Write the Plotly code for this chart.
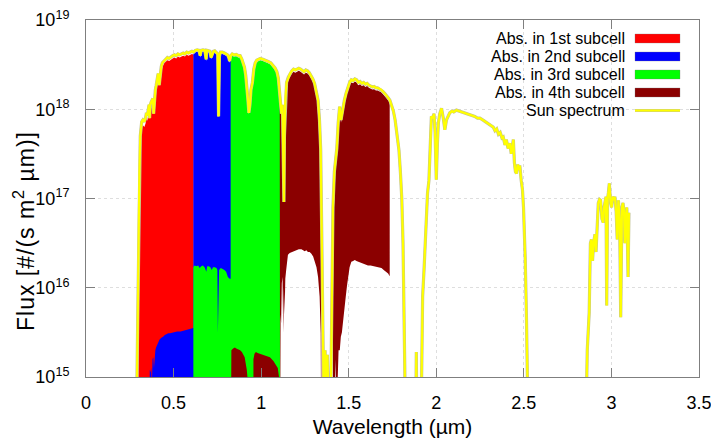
import plotly.graph_objects as go

# ---------------- data (wavelength in um, flux as log10 of #/(s m^2 um)) ----------------
SUN_WL = [0.280, 0.290, 0.295, 0.300, 0.305, 0.310, 0.318, 0.325, 0.333, 0.340, 0.345, 0.350,
          0.355, 0.360, 0.363, 0.366, 0.372, 0.378, 0.382, 0.386, 0.390, 0.396, 0.400, 0.406,
          0.412, 0.418, 0.422, 0.430, 0.436, 0.440, 0.448, 0.456, 0.465, 0.475, 0.485, 0.495,
          0.505, 0.515, 0.525, 0.535, 0.545, 0.555, 0.565, 0.575, 0.585, 0.595, 0.605, 0.615,
          0.625, 0.635, 0.645, 0.652, 0.658, 0.668, 0.678, 0.686, 0.690, 0.700, 0.708, 0.714,
          0.720, 0.728, 0.735, 0.745, 0.752, 0.757, 0.762, 0.768, 0.778, 0.790, 0.800, 0.808,
          0.815, 0.820, 0.826, 0.835, 0.845, 0.858, 0.870, 0.880, 0.890, 0.898, 0.905, 0.912,
          0.918, 0.924, 0.930, 0.936, 0.942, 0.950, 0.958, 0.966, 0.975, 0.985, 0.995, 1.010,
          1.025, 1.040, 1.055, 1.070, 1.080, 1.090, 1.098, 1.104, 1.110, 1.116, 1.122, 1.127,
          1.130, 1.133, 1.138, 1.145, 1.155, 1.165, 1.175, 1.185, 1.195, 1.205, 1.215, 1.225,
          1.235, 1.245, 1.255, 1.265, 1.275, 1.285, 1.295, 1.305, 1.315, 1.325, 1.333, 1.340,
          1.346, 1.350, 1.353, 1.362, 1.365, 1.368, 1.375, 1.378, 1.381, 1.395, 1.400, 1.405,
          1.410, 1.418, 1.425, 1.432, 1.440, 1.448, 1.456, 1.465, 1.475, 1.485, 1.495, 1.505,
          1.515, 1.525, 1.535, 1.545, 1.555, 1.565, 1.575, 1.585, 1.595, 1.605, 1.615, 1.625,
          1.635, 1.645, 1.655, 1.665, 1.675, 1.685, 1.695, 1.705, 1.715, 1.725, 1.735, 1.745,
          1.755, 1.765, 1.773, 1.780, 1.787, 1.795, 1.803, 1.810, 1.815, 1.822, 1.828, 1.880,
          1.886, 1.890, 1.910, 1.916, 1.922, 1.930, 1.937, 1.944, 1.950, 1.958, 1.965, 1.972,
          1.980, 1.987, 1.993, 2.000, 2.006, 2.012, 2.020, 2.030, 2.040, 2.049, 2.058, 2.068,
          2.077, 2.090, 2.100, 2.115, 2.130, 2.145, 2.160, 2.173, 2.190, 2.205, 2.220, 2.235,
          2.249, 2.265, 2.280, 2.295, 2.310, 2.325, 2.335, 2.345, 2.355, 2.365, 2.375, 2.382,
          2.392, 2.400, 2.410, 2.420, 2.428, 2.435, 2.440, 2.446, 2.452, 2.458, 2.465, 2.472,
          2.477, 2.485, 2.492, 2.498, 2.503, 2.508, 2.515, 2.522, 2.528, 2.850, 2.862, 2.873,
          2.880, 2.886, 2.892, 2.898, 2.906, 2.912, 2.918, 2.925, 2.932, 2.938, 2.946, 2.953,
          2.958, 2.964, 2.969, 2.973, 2.978, 2.983, 2.988, 2.995, 3.001, 3.008, 3.015, 3.020,
          3.027, 3.033, 3.040, 3.047, 3.053, 3.060, 3.066, 3.072, 3.077, 3.083, 3.088, 3.095,
          3.100]
SUN_LOG10 = [14.0, 14.8, 15.6, 16.6, 17.3, 17.7, 17.86, 17.88, 17.86, 17.9, 17.96, 17.93,
             17.99, 18.05, 17.9, 18.04, 18.08, 18.1, 18.12, 17.95, 18.12, 18.22, 18.26, 18.36,
             18.4, 18.27, 18.35, 18.48, 18.52, 18.53, 18.55, 18.57, 18.58, 18.57, 18.59, 18.6,
             18.61, 18.6, 18.62, 18.61, 18.62, 18.63, 18.62, 18.64, 18.63, 18.645, 18.65, 18.64,
             18.66, 18.665, 18.66, 18.6, 18.66, 18.665, 18.66, 18.56, 18.66, 18.655, 18.65, 18.58,
             18.62, 18.65, 18.655, 18.64, 18.62, 17.92, 18.6, 18.64, 18.64, 18.63, 18.62, 18.61,
             18.58, 18.54, 18.6, 18.62, 18.61, 18.615, 18.6, 18.6, 18.56, 18.5, 18.47, 18.38,
             18.27, 18.12, 17.96, 18.05, 18.22, 18.3, 18.45, 18.52, 18.55, 18.56, 18.57, 18.56,
             18.55, 18.535, 18.52, 18.49, 18.46, 18.42, 18.35, 18.22, 18.08, 17.95, 18.05, 17.6,
             16.96, 17.7, 18.1, 18.3, 18.36, 18.4, 18.43, 18.45, 18.44, 18.45, 18.46, 18.45,
             18.43, 18.42, 18.44, 18.43, 18.41, 18.38, 18.34, 18.29, 18.2, 18.1, 17.88, 17.55,
             16.6, 15.4, 14.0, 14.0, 15.3, 14.0, 14.0, 15.25, 14.0, 14.0, 15.2, 16.3,
             16.9, 17.3, 17.45, 17.56, 17.85, 18.03, 17.88, 18.0, 18.1, 18.18, 18.25, 18.3,
             18.33, 18.32, 18.34, 18.33, 18.3, 18.31, 18.29, 18.3, 18.28, 18.29, 18.27, 18.26,
             18.25, 18.255, 18.24, 18.24, 18.23, 18.22, 18.2, 18.18, 18.16, 18.13, 18.1, 18.04,
             17.98, 17.88, 17.77, 17.65, 17.54, 17.3, 17.0, 16.5, 16.1, 15.4, 14.0, 14.0,
             15.28, 14.0, 14.0, 15.4, 15.9, 16.2, 16.5, 16.8, 17.06, 17.2, 17.5, 17.92,
             17.9, 17.95, 17.75, 17.21, 17.6, 17.85, 17.95, 18.01, 17.9, 17.77, 17.88, 17.93,
             17.96, 17.98, 17.97, 17.99, 17.98, 17.97, 17.96, 17.955, 17.94, 17.93, 17.92, 17.9,
             17.9, 17.88, 17.86, 17.84, 17.82, 17.8, 17.76, 17.78, 17.72, 17.74, 17.68, 17.69,
             17.6, 17.66, 17.56, 17.62, 17.5, 17.58, 17.66, 17.4, 17.3, 17.28, 17.38, 17.32,
             17.37, 17.2, 17.1, 16.9, 16.62, 16.31, 15.65, 14.9, 14.0, 14.0, 15.3, 15.72,
             16.5, 16.54, 16.3, 16.5, 16.6, 16.4, 16.7, 16.95, 16.99, 16.98, 16.77, 16.73,
             16.9, 16.98, 17.02, 15.8, 16.99, 17.07, 17.17, 16.96, 16.9, 17.02, 16.98, 17.02,
             16.85, 16.54, 16.98, 16.75, 15.67, 16.9, 16.95, 16.85, 16.5, 16.8, 16.9, 16.12,
             16.84]

# 1st subcell
SUB1_WL = [0.297, 0.300, 0.305, 0.310, 0.318, 0.325, 0.333, 0.340, 0.345, 0.350, 0.355, 0.360,
           0.366, 0.372, 0.378, 0.382, 0.390, 0.396, 0.400, 0.406, 0.412, 0.422, 0.430, 0.436,
           0.440, 0.448, 0.456, 0.465, 0.475, 0.485, 0.495, 0.505, 0.515, 0.525, 0.535, 0.545,
           0.555, 0.565, 0.575, 0.585, 0.595, 0.605, 0.615]
SUB1_LOG10 = [15.9, 16.5, 17.2, 17.62, 17.8, 17.82, 17.8, 17.84, 17.9, 17.87, 17.93, 17.99,
              17.98, 18.02, 18.04, 18.06, 18.06, 18.16, 18.2, 18.3, 18.34, 18.3, 18.43, 18.48,
              18.49, 18.52, 18.54, 18.55, 18.54, 18.56, 18.57, 18.58, 18.57, 18.59, 18.58, 18.59,
              18.6, 18.59, 18.61, 18.6, 18.615, 18.62, 18.61]

# 2nd subcell (weak tail below 0.613 um, then strong band)
SUB2_WL = [0.362, 0.364, 0.366, 0.368, 0.372, 0.376, 0.380, 0.384, 0.388, 0.392, 0.396, 0.400,
           0.410, 0.420, 0.430, 0.440, 0.450, 0.460, 0.470, 0.480, 0.500, 0.520, 0.540, 0.560,
           0.580, 0.600, 0.613,
           0.613, 0.625, 0.635, 0.645, 0.652, 0.658, 0.668, 0.678, 0.686, 0.690, 0.700, 0.708,
           0.714, 0.720, 0.728, 0.735, 0.745, 0.752, 0.757, 0.762, 0.768, 0.778, 0.790, 0.800,
           0.808, 0.815, 0.820, 0.828]
SUB2_LOG10 = [14.0, 15.08, 14.6, 15.05, 15.1, 14.9, 15.2, 15.22, 15.1, 15.3, 15.3, 15.33,
              15.38, 15.42, 15.44, 15.45, 15.47, 15.48, 15.49, 15.49, 15.5, 15.51, 15.51, 15.52,
              15.53, 15.54, 15.55,
              18.62, 18.64, 18.645, 18.64, 18.58, 18.64, 18.645, 18.64, 18.54, 18.64, 18.635, 18.63,
              18.56, 18.6, 18.63, 18.635, 18.62, 18.6, 18.3, 18.58, 18.62, 18.62, 18.61, 18.6,
              18.59, 18.56, 18.52, 18.58]

# 3rd subcell
SUB3_WL = [0.613, 0.620, 0.630, 0.640, 0.649, 0.658, 0.667, 0.677, 0.687, 0.692, 0.700, 0.710,
           0.718, 0.725, 0.735, 0.745, 0.750, 0.753, 0.756, 0.760, 0.770, 0.780, 0.790, 0.800,
           0.810, 0.820, 0.826,
           0.826, 0.835, 0.845, 0.858, 0.870, 0.880, 0.890, 0.898, 0.905, 0.912, 0.918, 0.924,
           0.930, 0.936, 0.942, 0.950, 0.958, 0.966, 0.975, 0.985, 0.995, 1.010, 1.025, 1.040,
           1.055, 1.070, 1.080, 1.090, 1.098, 1.104, 1.108]
SUB3_LOG10 = [16.23, 16.25, 16.24, 16.25, 16.22, 16.24, 16.25, 16.23, 16.18, 16.24, 16.24, 16.23,
              16.2, 16.23, 16.23, 16.22, 16.2, 15.5, 16.0, 16.2, 16.22, 16.21, 16.2, 16.18,
              16.12, 16.1, 16.1,
              18.58, 18.6, 18.59, 18.595, 18.58, 18.58, 18.54, 18.48, 18.45, 18.36, 18.25, 18.1,
              17.94, 18.03, 18.2, 18.28, 18.43, 18.5, 18.53, 18.54, 18.55, 18.54, 18.53, 18.515,
              18.5, 18.47, 18.44, 18.4, 18.33, 18.2, 18.1]

# 4th subcell: weak tails (0.83-0.92 and 0.96-1.10 um)
SUB4A_WL = [0.827, 0.830, 0.840, 0.850, 0.858, 0.870, 0.880, 0.890, 0.900, 0.906, 0.912, 0.918, 0.924]
SUB4A_LOG10 = [15.0, 15.3, 15.32, 15.33, 15.32, 15.31, 15.3, 15.28, 15.24, 15.22, 15.15, 15.08, 14.95]
SUB4B_WL = [0.956, 0.962, 0.970, 0.980, 0.995, 1.010, 1.030, 1.050, 1.070, 1.085, 1.095, 1.102]
SUB4B_LOG10 = [15.2, 15.26, 15.28, 15.27, 15.26, 15.25, 15.24, 15.22, 15.18, 15.14, 15.1, 15.0]
# 4th subcell: strong bands, upper and lower edges
SUB4C_WL = [1.106, 1.110, 1.116, 1.122, 1.127, 1.130, 1.133, 1.138, 1.145, 1.155, 1.165, 1.175,
            1.185, 1.195, 1.205, 1.215, 1.225, 1.235, 1.245, 1.255, 1.265, 1.275, 1.285, 1.295,
            1.305, 1.315, 1.325, 1.333, 1.340, 1.344]
SUB4C_TOP = [18.15, 18.05, 17.92, 18.02, 17.9, 17.8, 17.9, 18.07, 18.27, 18.33, 18.37, 18.4,
             18.42, 18.41, 18.42, 18.43, 18.42, 18.4, 18.39, 18.41, 18.4, 18.38, 18.35, 18.31,
             18.26, 18.17, 18.07, 17.85, 17.5, 17.0]
SUB4C_LOW_WL = [1.106, 1.108, 1.111, 1.114, 1.118, 1.122, 1.126, 1.130, 1.134, 1.138, 1.143, 1.148,
                1.153, 1.163, 1.173, 1.185, 1.201, 1.215, 1.230, 1.240, 1.249, 1.258, 1.267, 1.277,
                1.287, 1.297, 1.306, 1.316, 1.325, 1.334, 1.340, 1.344]
SUB4C_LOW = [14.0, 14.0, 15.7, 15.6, 16.05, 16.12, 15.5, 16.0, 15.7, 16.1, 16.2, 16.3,
             16.37, 16.39, 16.4, 16.41, 16.42, 16.43, 16.43, 16.42, 16.41, 16.42, 16.4, 16.4,
             16.38, 16.35, 16.31, 16.23, 16.12, 15.9, 15.49, 14.0]
SUB4D_WL = [1.410, 1.415, 1.420, 1.425, 1.432, 1.440, 1.448, 1.456, 1.465, 1.475, 1.485, 1.495,
            1.505, 1.515, 1.525, 1.535, 1.545, 1.555, 1.565, 1.575, 1.585, 1.595, 1.605, 1.615,
            1.625, 1.635, 1.645, 1.655, 1.665, 1.675, 1.685, 1.695, 1.705, 1.715, 1.725, 1.734]
SUB4D_TOP = [16.6, 16.95, 17.25, 17.42, 17.53, 17.82, 18.0, 17.85, 17.97, 18.07, 18.15, 18.22,
             18.27, 18.3, 18.29, 18.31, 18.3, 18.27, 18.28, 18.26, 18.27, 18.25, 18.26, 18.24,
             18.23, 18.22, 18.225, 18.21, 18.21, 18.2, 18.19, 18.17, 18.15, 18.13, 18.1, 18.07]
SUB4D_LOW_WL = [1.410, 1.420, 1.425, 1.430, 1.436, 1.442, 1.449, 1.455, 1.461, 1.467, 1.475, 1.483,
                1.490, 1.496, 1.505, 1.515, 1.525, 1.535, 1.544, 1.555, 1.565, 1.573, 1.585, 1.595,
                1.610, 1.625, 1.640, 1.655, 1.670, 1.687, 1.700, 1.715, 1.725, 1.734]
SUB4D_LOW = [14.0, 14.0, 15.2, 14.5, 15.0, 15.3, 15.3, 15.45, 15.5, 15.56, 15.75, 15.9,
             16.02, 16.12, 16.23, 16.29, 16.3, 16.31, 16.3, 16.29, 16.28, 16.27, 16.27, 16.26,
             16.25, 16.25, 16.245, 16.24, 16.23, 16.22, 16.2, 16.18, 16.16, 16.13]

LEGEND_LABELS = ["Abs. in 1st subcell", "Abs. in 2nd subcell", "Abs. in 3rd subcell",
                 "Abs. in 4th subcell", "Sun spectrum"]
FILL_COLORS = ["#ff0000", "#0000ff", "#00ff00", "#8b0000"]
SUN_COLOR = "#ffff00"

X_TICKS = [0, 0.5, 1, 1.5, 2, 2.5, 3, 3.5]
X_TICKTEXT = ["0", "0.5", "1", "1.5", "2", "2.5", "3", "3.5"]
Y_EXP = [15, 16, 17, 18, 19]

BASE = 14.0  # below the visible axis range: polygons are closed down there

# ---------------- helpers ----------------
def to_base(wl, lg):
    return [wl[0]] + list(wl) + [wl[-1]], [BASE] + list(lg) + [BASE]

def between(wl_top, top, wl_low, low):
    return list(wl_top) + list(wl_low[::-1]), list(top) + list(low[::-1])

def join(parts):
    xs, ys = [], []
    for i, (x, y) in enumerate(parts):
        if i:
            xs.append(None)
            ys.append(None)
        xs += x
        ys += [10 ** v for v in y]
    return xs, ys

fills = [
    [to_base(SUB1_WL, SUB1_LOG10)],
    [to_base(SUB2_WL, SUB2_LOG10)],
    [to_base(SUB3_WL, SUB3_LOG10)],
    [to_base(SUB4A_WL, SUB4A_LOG10), to_base(SUB4B_WL, SUB4B_LOG10),
     between(SUB4C_WL, SUB4C_TOP, SUB4C_LOW_WL, SUB4C_LOW),
     between(SUB4D_WL, SUB4D_TOP, SUB4D_LOW_WL, SUB4D_LOW)],
]

fig = go.Figure()
for name, col, parts in zip(LEGEND_LABELS[:4], FILL_COLORS, fills):
    xs, ys = join(parts)
    fig.add_trace(go.Scatter(x=xs, y=ys, mode="lines", fill="toself", fillcolor=col,
                             line=dict(width=0, color=col), name=name, showlegend=False,
                             hoverinfo="skip"))

sun_y = [10 ** v for v in SUN_LOG10]
fig.add_trace(go.Scatter(x=SUN_WL, y=sun_y, mode="lines",
                         line=dict(color="rgb(195,195,150)", width=3.2),
                         showlegend=False, hoverinfo="skip"))
fig.add_trace(go.Scatter(x=SUN_WL, y=sun_y, mode="lines", name=LEGEND_LABELS[4],
                         line=dict(color=SUN_COLOR, width=2.2), showlegend=False))

# ---------------- layout ----------------
# The page body has an 8px margin, so the figure is drawn 8px in from the window edge.
OFF = 8
W, H = 719 - OFF, 442 - OFF
L, R, T, B = 86 - OFF, 20, 20 - OFF, 65
PW, PH = W - L - R, H - T - B

def px(x_page):
    return (x_page - OFF - L) / PW

def py(y_page):
    return 1 - (y_page - OFF - T) / PH

axis_col = "#7f7f7f"
grid_col = "#dedede"

fig.update_layout(
    width=W, height=H, margin=dict(l=L, r=R, t=T, b=B, autoexpand=False),
    paper_bgcolor="white", plot_bgcolor="white", showlegend=False,
    font=dict(family="Liberation Sans, Arial, sans-serif", size=18, color="#000000"),
)
fig.update_xaxes(
    range=[0, 3.5], tickvals=X_TICKS, ticktext=X_TICKTEXT, automargin=False,
    ticks="inside", ticklen=9, tickcolor=axis_col, tickwidth=1,
    showline=True, linecolor=axis_col, linewidth=1, mirror="ticks",
    showgrid=True, gridcolor=grid_col, griddash="dot", gridwidth=1, zeroline=False,
    ticklabelstandoff=9, ticklabeloverflow="allow",
    title=dict(text="Wavelength (µm)", standoff=7, font=dict(size=21)),
)
fig.update_yaxes(
    type="log", range=[15, 19], automargin=False,
    tickvals=[10 ** e for e in Y_EXP], ticktext=["10<sup>%d</sup>" % e for e in Y_EXP],
    ticks="inside", ticklen=9, tickcolor=axis_col, tickwidth=1,
    showline=True, linecolor=axis_col, linewidth=1, mirror="ticks",
    showgrid=True, gridcolor=grid_col, griddash="dot", gridwidth=1, zeroline=False,
    ticklabelstandoff=12, ticklabeloverflow="allow", minor=dict(showgrid=False, ticks=""),
)

# y-axis title placed where the original has it
fig.add_annotation(x=px(24), y=py(231), xref="paper", yref="paper",
                   text='<span style="letter-spacing:1px">Flux [#/(s m<sup>2</sup> µm)]</span>',
                   textangle=-90, showarrow=False,
                   xanchor="center", yanchor="middle", font=dict(size=23, color="#000000"))

# ---------------- legend (text right-aligned, sample on the right, like the original) ----------------
row_y = [38.5, 56.5, 74.5, 92.5, 110.5]
text_right = 627
s0, s1 = 635, 680
for i, label in enumerate(LEGEND_LABELS):
    fig.add_annotation(x=px(text_right), y=py(row_y[i]), xref="paper", yref="paper",
                       text=label, showarrow=False, xanchor="right", yanchor="middle",
                       font=dict(size=16, color="#000000"))
    if i < 4:
        fig.add_shape(type="rect", xref="paper", yref="paper",
                      x0=px(s0), x1=px(s1), y0=py(row_y[i] + 4.5), y1=py(row_y[i] - 4.5),
                      fillcolor=FILL_COLORS[i], line=dict(width=0.6, color="rgba(120,120,120,0.5)"))
    else:
        fig.add_shape(type="line", xref="paper", yref="paper",
                      x0=px(s0), x1=px(s1), y0=py(row_y[i]), y1=py(row_y[i]),
                      line=dict(color="rgb(195,195,150)", width=3.2))
        fig.add_shape(type="line", xref="paper", yref="paper",
                      x0=px(s0), x1=px(s1), y0=py(row_y[i]), y1=py(row_y[i]),
                      line=dict(color=SUN_COLOR, width=2.2))

fig.write_html("out.html")
